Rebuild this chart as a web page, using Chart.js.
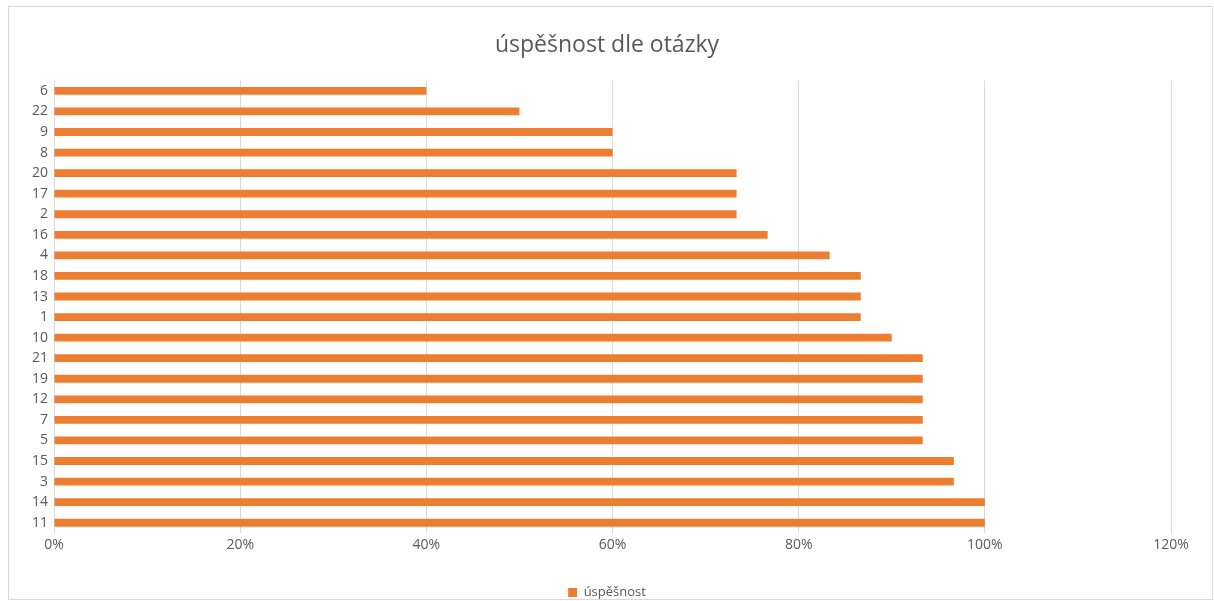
<!DOCTYPE html>
<html>
<head>
<meta charset="utf-8">
<script src="https://cdn.jsdelivr.net/npm/chart.js@4"></script>
<style>
  html, body { margin: 0; padding: 0; background: #fff; }
  #wrap { width: 1214px; height: 601px; position: relative; }
</style>
</head>
<body>
<div id="wrap"><canvas id="c" width="1214" height="601"></canvas></div>
<script>
// Question numbers, listed top to bottom
const otazky = ['6','22','9','8','20','17','2','16','4','18','13','1','10','21','19','12','7','5','15','3','14','11'];
// Success rate per question (share of correct answers)
const uspesnost = [0.4, 0.5, 0.6, 0.6, 0.7333, 0.7333, 0.7333, 0.7667, 0.8333, 0.8667, 0.8667, 0.8667, 0.9,
                   0.9333, 0.9333, 0.9333, 0.9333, 0.9333, 0.9667, 0.9667, 1.0, 1.0];
const osaTicks = [0, 0.2, 0.4, 0.6, 0.8, 1.0, 1.2];
const nazevGrafu = 'úspěšnost dle otázky';
const nazevRady = 'úspěšnost';

const textColor = '#595959';
const gridColor = '#D9D9D9';
const barColor = '#ED7D31';
const fontFam = "'Open Sans', 'Liberation Sans', sans-serif";

// light frame around the whole chart
const frame = {
  id: 'frame',
  beforeDraw(chart) {
    const ctx = chart.ctx;
    ctx.save();
    ctx.fillStyle = '#fff';
    ctx.fillRect(0, 0, chart.width, chart.height);
    ctx.strokeStyle = '#D9D9D9';
    ctx.lineWidth = 1;
    ctx.strokeRect(8.5, 6.5, 1204, 593);
    ctx.restore();
  }
};

new Chart(document.getElementById('c'), {
  type: 'bar',
  data: {
    labels: otazky,
    datasets: [{
      label: nazevRady,
      data: uspesnost,
      backgroundColor: barColor,
      borderWidth: 0,
      categoryPercentage: 1.0,
      barPercentage: 0.38
    }]
  },
  options: {
    indexAxis: 'y',
    responsive: false,
    animation: false,
    layout: { padding: { left: 8, right: 8, top: 6, bottom: -8 } },
    plugins: {
      title: {
        display: true,
        text: nazevGrafu,
        color: textColor,
        font: { family: fontFam, size: 23, weight: 'normal' },
        padding: { top: 26, bottom: 21 }
      },
      legend: {
        display: true,
        position: 'bottom',
        labels: {
          color: textColor,
          font: { family: fontFam, size: 13 },
          boxWidth: 9,
          boxHeight: 9,
          padding: 2
        }
      },
      tooltip: { enabled: false }
    },
    scales: {
      x: {
        min: 0,
        max: 1.2,
        afterBuildTicks(scale) { scale.ticks = osaTicks.map(v => ({ value: v })); },
        afterFit(scale) { scale.height = 51; },
        ticks: {
          color: textColor,
          font: { family: fontFam, size: 14 },
          padding: 4,
          callback: v => Math.round(v * 100) + '%'
        },
        grid: { color: gridColor, drawTicks: false },
        border: { display: false }
      },
      y: {
        afterFit(scale) { scale.width = 46; },
        ticks: {
          color: textColor,
          font: { family: fontFam, size: 14 },
          padding: 6,
          autoSkip: false
        },
        grid: { display: false, drawTicks: false },
        border: { display: false }
      },
      // empty right-hand margin so the plot ends where the 120% label sits
      yRight: {
        type: 'category',
        labels: otazky,
        position: 'right',
        afterFit(scale) { scale.width = 35; },
        ticks: { display: false },
        grid: { display: false, drawTicks: false },
        border: { display: false }
      }
    }
  },
  plugins: [frame]
});
</script>
</body>
</html>
